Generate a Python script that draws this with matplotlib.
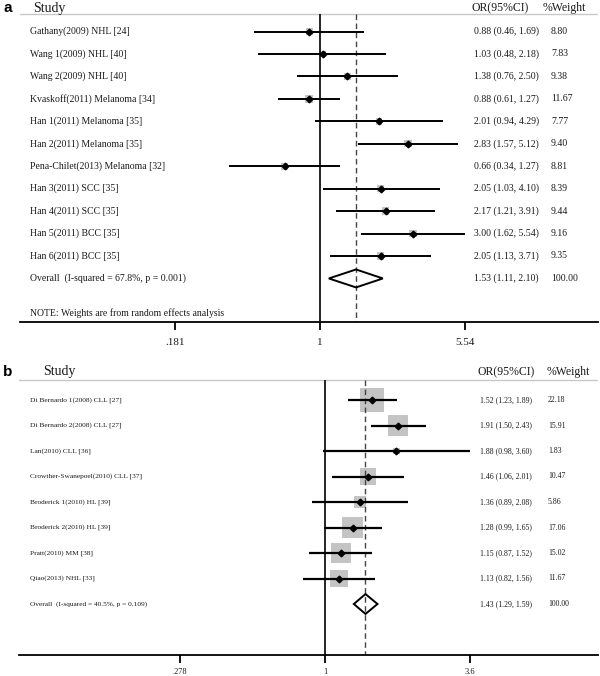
import numpy as np
import matplotlib
matplotlib.use("Agg")
import matplotlib.pyplot as plt
import matplotlib.transforms as mtransforms
from matplotlib.ticker import NullLocator

plt.rcParams["font.family"] = ["Liberation Serif", "DejaVu Serif"]

# ---- panel a data ----
studies_a = [
    "Gathany(2009) NHL [24]",
    "Wang 1(2009) NHL [40]",
    "Wang 2(2009) NHL [40]",
    "Kvaskoff(2011) Melanoma [34]",
    "Han 1(2011) Melanoma [35]",
    "Han 2(2011) Melanoma [35]",
    "Pena-Chilet(2013) Melanoma [32]",
    "Han 3(2011) SCC [35]",
    "Han 4(2011) SCC [35]",
    "Han 5(2011) BCC [35]",
    "Han 6(2011) BCC [35]",
]
or_a = [0.88, 1.03, 1.38, 0.88, 2.01, 2.83, 0.66, 2.05, 2.17, 3.00, 2.05]
lo_a = [0.46, 0.48, 0.76, 0.61, 0.94, 1.57, 0.34, 1.03, 1.21, 1.62, 1.13]
hi_a = [1.69, 2.18, 2.50, 1.27, 4.29, 5.12, 1.27, 4.10, 3.91, 5.54, 3.71]
weight_a = [8.80, 7.83, 9.38, 11.67, 7.77, 9.40, 8.81, 8.39, 9.44, 9.16, 9.35]
overall_a = [1.53, 1.11, 2.10]
overall_label_a = "Overall  (I-squared = 67.8%, p = 0.001)"
ticks_a = [0.181, 1, 5.54]
tick_labels_a = [".181", "1", "5.54"]

# ---- panel b data ----
studies_b = [
    "Di Bernardo 1(2008) CLL [27]",
    "Di Bernardo 2(2008) CLL [27]",
    "Lan(2010) CLL [36]",
    "Crowther-Swanepoel(2010) CLL [37]",
    "Broderick 1(2010) HL [39]",
    "Broderick 2(2010) HL [39]",
    "Pratt(2010) MM [38]",
    "Qiao(2013) NHL [33]",
]
or_b = [1.52, 1.91, 1.88, 1.46, 1.36, 1.28, 1.15, 1.13]
lo_b = [1.23, 1.50, 0.98, 1.06, 0.89, 0.99, 0.87, 0.82]
hi_b = [1.89, 2.43, 3.60, 2.01, 2.08, 1.65, 1.52, 1.56]
weight_b = [22.18, 15.91, 1.83, 10.47, 5.86, 17.06, 15.02, 11.67]
overall_b = [1.43, 1.29, 1.59]
overall_label_b = "Overall  (I-squared = 40.5%, p = 0.109)"
ticks_b = [0.278, 1, 3.6]
tick_labels_b = [".278", "1", "3.6"]

W, H = 600, 676
TXT = "#1a1a1a"


def draw_panel(fig, letter, studies, est, lo, hi, wt, overall, overall_label,
               ticks, tick_labels, lay, note=None):
    l, r, top, bot = lay["left"], lay["right"], lay["top"], lay["bottom"]
    row0, step = lay["row0"], lay["step"]
    to_row = lambda py: (py - row0) / step

    ax = fig.add_axes([l / W, 1 - bot / H, (r - l) / W, (bot - top) / H])
    ax.set_xscale("log")
    ax.set_xlim(np.exp((l - lay["one"]) / lay["ppl"]),
                np.exp((r - lay["one"]) / lay["ppl"]))
    ax.set_ylim(to_row(bot), to_row(top))
    for s in ["top", "left", "right"]:
        ax.spines[s].set_visible(False)
    ax.spines["bottom"].set_linewidth(1.3)
    ax.set_yticks([])
    ax.set_xticks(ticks)
    ax.set_xticklabels(tick_labels)
    ax.xaxis.set_minor_locator(NullLocator())
    ax.tick_params(axis="x", length=lay["ticklen"], width=1.3, pad=lay["tickpad"],
                   labelsize=lay["ticksize"], labelcolor=TXT)

    n = len(studies)
    y = np.arange(n)
    hdr = to_row(lay["hline"])
    ymax = to_row(bot)

    ax.axhline(hdr, color="#c8c8c8", lw=1.0, zorder=1)
    ax.vlines(1, hdr, ymax, color="black", lw=1.2, zorder=2)
    ax.vlines(overall[0], hdr, ymax, color="#444444", lw=1.0,
              linestyles=(0, (4, 2.5)), zorder=2)

    # grey boxes scaled by study weight
    sizes = (lay["sq"] * np.sqrt(wt) * 0.72) ** 2
    ax.scatter(est, y, marker="s", s=sizes, color="#c4c4c4", lw=0, zorder=1.5)
    ax.hlines(y, lo, hi, color="black", lw=lay["cilw"], zorder=3)
    ax.plot(est, y, "D", ms=3.4, color="black", zorder=4)

    hd = lay["dia"]
    ax.fill([overall[1], overall[0], overall[2], overall[0]],
            [n, n - hd, n, n + hd], facecolor="none", edgecolor="black",
            lw=1.4, zorder=4)

    trans = mtransforms.blended_transform_factory(fig.transFigure, ax.transData)
    hy = to_row(lay["header"])
    ax.text(3 / W, hy, letter, transform=trans, ha="left", va="center",
            fontsize=11, fontweight="bold", family="Liberation Sans", color="black")
    ax.text(lay["study_x"] / W, hy, "Study", transform=trans, ha="left",
            va="center", fontsize=10, color=TXT)
    ax.text(lay["or_hx"] / W, hy, "OR(95%CI)", transform=trans, ha="left",
            va="center", fontsize=8.5, color=TXT)
    ax.text(lay["w_hx"] / W, hy, "%Weight", transform=trans, ha="left",
            va="center", fontsize=8.5, color=TXT)

    labels = list(studies) + [overall_label]
    ors = list(est) + [overall[0]]
    los = list(lo) + [overall[1]]
    his = list(hi) + [overall[2]]
    wts = list(wt) + [100.0]
    for i in range(n + 1):
        ax.text(30 / W, i, labels[i], transform=trans, ha="left", va="center",
                fontsize=lay["lab_fs"], color=TXT)
        ax.text(lay["or_x"] / W, i, f"{ors[i]:.2f} ({los[i]:.2f}, {his[i]:.2f})",
                transform=trans, ha="left", va="center", fontsize=lay["val_fs"],
                color=TXT)
        ax.text(lay["w_x"] / W, i, f"{wts[i]:.2f}", transform=trans, ha="left",
                va="center", fontsize=lay["val_fs"], color=TXT)
    if note:
        ax.text(30 / W, to_row(lay["note_y"]), note, transform=trans, ha="left",
                va="center", fontsize=lay["lab_fs"], color=TXT)
    return ax


fig = plt.figure(figsize=(W / 100, H / 100), dpi=100)

lay_a = dict(left=20, right=598, top=0, bottom=322, row0=31.5, step=22.45,
             one=320, ppl=145 / np.log(5.54), header=8.5, hline=14, note_y=313,
             ticklen=6, tickpad=5.5, ticksize=8, sq=2.4, cilw=1.4, dia=0.4,
             study_x=33, or_hx=472, w_hx=543, or_x=474, w_x=551,
             lab_fs=7, val_fs=7)
lay_b = dict(left=19, right=598, top=362, bottom=654.5, row0=400, step=25.5,
             one=325, ppl=145 / np.log(3.6), header=372, hline=380,
             ticklen=6, tickpad=4, ticksize=6, sq=5.1, cilw=1.6, dia=0.39,
             study_x=43, or_hx=477, w_hx=547, or_x=480, w_x=548,
             lab_fs=5.3, val_fs=5.6)

draw_panel(fig, "a", studies_a, or_a, lo_a, hi_a, weight_a, overall_a,
           overall_label_a, ticks_a, tick_labels_a, lay_a,
           note="NOTE: Weights are from random effects analysis")
draw_panel(fig, "b", studies_b, or_b, lo_b, hi_b, weight_b, overall_b,
           overall_label_b, ticks_b, tick_labels_b, lay_b)

fig.savefig("out.png", dpi=100, facecolor="white")
